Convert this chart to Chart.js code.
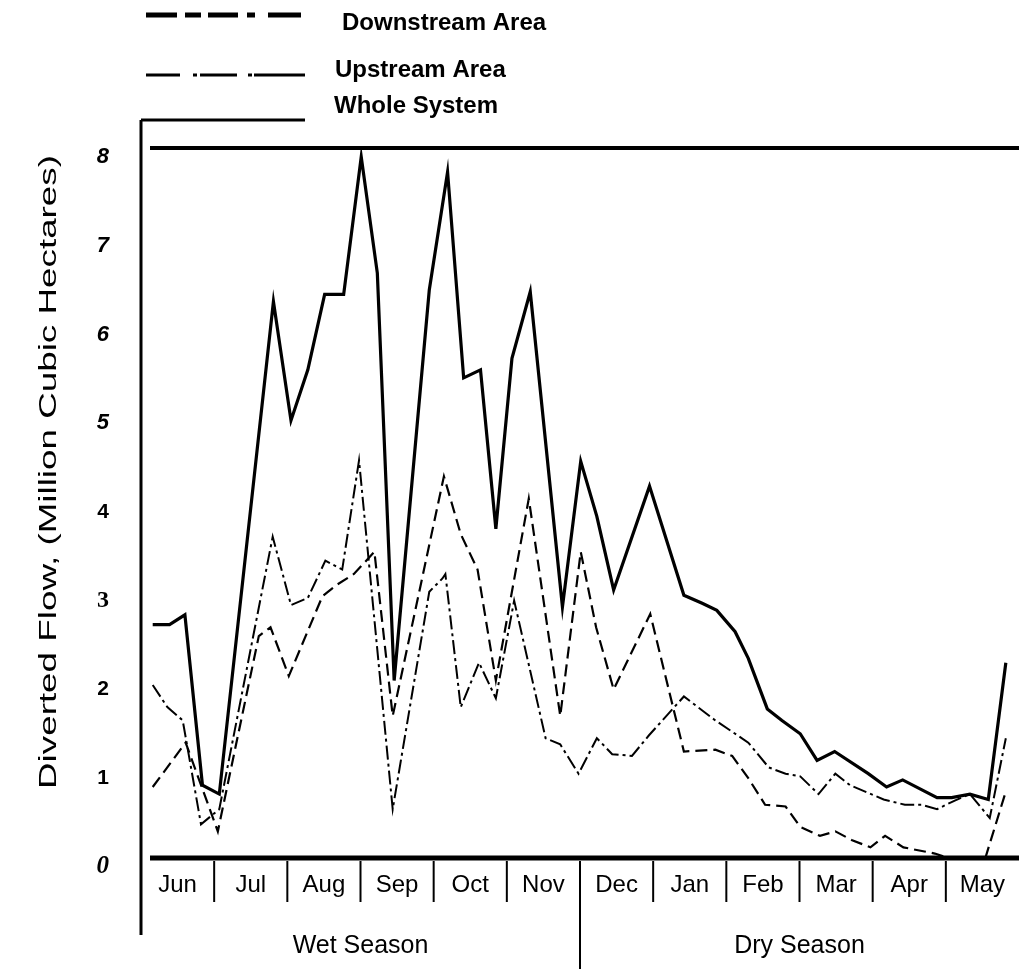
<!DOCTYPE html>
<html>
<head>
<meta charset="utf-8">
<script src="https://cdn.jsdelivr.net/npm/chart.js@4.4.1/dist/chart.umd.min.js"></script>
<style>
html,body{margin:0;padding:0;background:#fff;}
#wrap{width:1019px;height:969px;position:relative;}
</style>
</head>
<body>
<div id="wrap"><canvas id="c" width="1019" height="969"></canvas></div>
<script>
// ---- data (x = position in months from start of June, y = million cubic hectares)
const months = ['Jun','Jul','Aug','Sep','Oct','Nov','Dec','Jan','Feb','Mar','Apr','May'];
const seasons = ['Wet Season','Dry Season'];
const yTickValues = [0,1,2,3,4,5,6,7,8];
const yTitle = 'Diverted Flow, (Million Cubic Hectares)';
const seriesNames = ['Downstream Area','Upstream Area','Whole System'];

const downX = [0.16,0.61,1.05,1.61,1.77,2.02,2.48,2.68,2.91,3.19,3.44,4.14,4.37,4.60,4.85,5.30,5.73,6.01,6.22,6.46,6.96,7.42,7.85,8.08,8.30,8.53,8.81,9.01,9.28,9.49,9.72,9.97,10.17,10.42,10.85,11.03,11.54,11.82];
const downY = [0.80,1.30,0.30,2.50,2.60,2.05,2.95,3.08,3.20,3.45,1.60,4.30,3.65,3.25,2.00,4.05,1.60,3.45,2.60,1.90,2.75,1.20,1.22,1.15,0.90,0.60,0.58,0.35,0.25,0.30,0.20,0.12,0.25,0.12,0.05,0.00,0.00,0.75];

const upX = [0.16,0.36,0.57,0.82,1.07,1.80,2.05,2.28,2.52,2.75,2.98,3.44,3.94,4.12,4.16,4.37,4.62,4.85,5.10,5.53,5.73,5.98,6.23,6.44,6.71,6.94,7.42,7.85,8.30,8.58,8.81,9.01,9.26,9.49,9.69,10.15,10.44,10.67,10.88,11.13,11.33,11.60,11.82];
const upY = [1.95,1.70,1.55,0.38,0.55,3.62,2.85,2.93,3.35,3.25,4.48,0.55,3.00,3.15,3.20,1.70,2.20,1.80,2.90,1.35,1.28,0.95,1.35,1.17,1.15,1.38,1.82,1.55,1.30,1.02,0.95,0.92,0.72,0.95,0.82,0.66,0.60,0.60,0.55,0.65,0.72,0.45,1.35];

const wholeX = [0.16,0.39,0.60,0.84,1.07,1.81,2.05,2.28,2.51,2.77,3.01,3.23,3.46,3.94,4.19,4.41,4.64,4.85,5.07,5.32,5.76,6.01,6.23,6.46,6.95,7.42,7.67,7.87,8.12,8.30,8.56,8.76,9.01,9.24,9.48,9.94,10.19,10.41,10.88,11.08,11.33,11.58,11.82];
const wholeY = [2.63,2.63,2.74,0.82,0.72,6.27,4.93,5.50,6.35,6.35,7.90,6.59,2.00,6.40,7.73,5.41,5.50,3.71,5.63,6.38,2.83,4.47,3.85,3.02,4.19,2.96,2.87,2.79,2.55,2.25,1.68,1.55,1.40,1.10,1.20,0.95,0.80,0.88,0.68,0.68,0.72,0.66,2.20];

const pts = (xs, ys) => xs.map((x, i) => ({x: x, y: ys[i]}));

// ---- legend sample styles (drawing only)
const legendStyle = [
  {ly: 15, tx: 342, ty: 23, w: 5, dash: [31, 8, 16, 7, 30, 9, 8, 13, 33]},
  {ly: 75, tx: 335, ty: 70, w: 3, dash: [34, 13, 4, 3, 37, 11, 4, 2, 60]},
  {ly: 120, tx: 334, ty: 106, w: 3, dash: []}
];

const decor = {
  id: 'decor',
  afterDraw(chart) {
    const {ctx, chartArea: a, scales: {x, y}} = chart;
    const seg = (x0, y0, x1, y1, w, dash) => {
      ctx.beginPath(); ctx.setLineDash(dash || []); ctx.lineWidth = w;
      ctx.moveTo(x0, y0); ctx.lineTo(x1, y1); ctx.stroke();
    };
    ctx.save();
    ctx.strokeStyle = '#000'; ctx.fillStyle = '#000'; ctx.lineCap = 'butt';
    const yTop = y.getPixelForValue(yTickValues[yTickValues.length - 1]);
    const yBot = y.getPixelForValue(0);
    seg(a.left + 9, yTop, a.right, yTop, 4);
    seg(a.left + 9, yBot, a.right, yBot, 5);
    seg(a.left, legendStyle[2].ly, a.left, 935, 3);
    for (let i = 1; i < months.length; i++) {
      const px = x.getPixelForValue(i);
      seg(px, yBot + 3, px, i === 6 ? chart.height : yBot + 44, 2);
    }
    ctx.setLineDash([]);
    ctx.font = '25px "Liberation Sans", Arial, sans-serif';
    ctx.textAlign = 'center'; ctx.textBaseline = 'middle';
    ctx.fillText(seasons[0], x.getPixelForValue(3), 946);
    ctx.fillText(seasons[1], x.getPixelForValue(9), 946);

    // y axis title (stretched along its length like the scanned original)
    ctx.save();
    ctx.translate(50, 472);
    ctx.rotate(-Math.PI / 2);
    ctx.scale(1.6, 1);
    ctx.font = '23px "Liberation Sans", Arial, sans-serif';
    ctx.fillText(yTitle, 0, 0);
    ctx.restore();

    // legend
    chart.data.datasets.forEach((ds, i) => {
      const st = legendStyle[i];
      const x0 = i === 2 ? a.left : 146;
      seg(x0, st.ly, 305, st.ly, st.w, st.dash);
      ctx.setLineDash([]);
      ctx.font = 'bold 24px "Liberation Sans", Arial, sans-serif';
      ctx.textAlign = 'left'; ctx.textBaseline = 'middle';
      ctx.fillText(ds.label, st.tx, st.ty);
    });
    ctx.restore();
  }
};

const tickFont = (c) => {
  const v = c.tick ? c.tick.value : 0;
  if (v === 3) return {family: '"Liberation Serif", serif', size: 24, weight: 'bold'};
  if (v === 0) return {family: '"Liberation Serif", serif', size: 25, weight: 'bold', style: 'italic'};
  if (v >= 5) return {family: '"Liberation Sans", Arial, sans-serif', size: 22, weight: 'bold', style: 'italic'};
  return {family: '"Liberation Sans", Arial, sans-serif', size: 21, weight: 'bold'};
};

new Chart(document.getElementById('c'), {
  type: 'line',
  data: {
    datasets: [
      {label: seriesNames[0], data: pts(downX, downY), borderColor: '#000', borderWidth: 2.2, borderDash: [12, 6], pointRadius: 0, fill: false, tension: 0},
      {label: seriesNames[1], data: pts(upX, upY), borderColor: '#000', borderWidth: 2, borderDash: [14, 4, 3, 4], pointRadius: 0, fill: false, tension: 0},
      {label: seriesNames[2], data: pts(wholeX, wholeY), borderColor: '#000', borderWidth: 3.2, pointRadius: 0, fill: false, tension: 0}
    ]
  },
  options: {
    responsive: false,
    animation: false,
    layout: {padding: {top: 148, right: 0, bottom: 0, left: 0}},
    plugins: {legend: {display: false}, tooltip: {enabled: false}},
    scales: {
      x: {
        type: 'linear', min: 0, max: months.length,
        grid: {display: false, drawTicks: false},
        border: {display: false},
        afterBuildTicks: (s) => { s.ticks = months.map((m, i) => ({value: i + 0.5})); },
        afterFit: (s) => { s.height = 111; },
        ticks: {
          autoSkip: false, maxRotation: 0, padding: 13, color: '#000',
          font: {family: '"Liberation Sans", Arial, sans-serif', size: 24},
          callback: (v, i) => months[i]
        }
      },
      y: {
        min: yTickValues[0], max: yTickValues[yTickValues.length - 1],
        grid: {display: false, drawTicks: false},
        border: {display: false},
        afterBuildTicks: (s) => { s.ticks = yTickValues.map(v => ({value: v})); },
        afterFit: (s) => { s.width = 141; },
        ticks: {padding: 32, labelOffset: 9, color: '#000', font: tickFont, callback: (v) => String(v)}
      }
    }
  },
  plugins: [decor]
});
</script>
</body>
</html>
